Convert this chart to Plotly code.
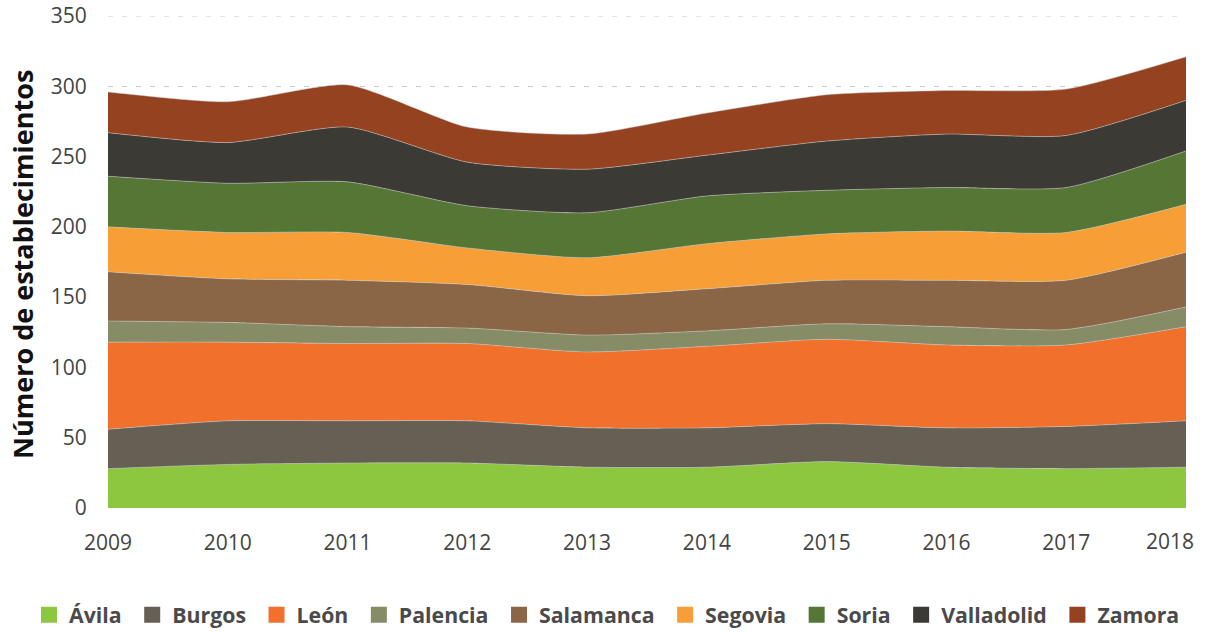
import plotly.graph_objects as go

years = [2009, 2010, 2011, 2012, 2013, 2014, 2015, 2016, 2017, 2018]
year_labels = ["2009", "2010", "2011", "2012", "2013", "2014", "2015", "2016", "2017", "2018"]
y_ticks = [0, 50, 100, 150, 200, 250, 300, 350]

avila      = [28, 31, 32, 32, 29, 29, 33, 29, 28, 29]
burgos     = [28, 31, 30, 30, 28, 28, 27, 28, 30, 33]
leon       = [62, 56, 55, 55, 54, 58, 60, 59, 58, 67]
palencia   = [15, 14, 12, 11, 12, 11, 11, 13, 11, 14]
salamanca  = [35, 31, 33, 31, 28, 30, 31, 33, 35, 39]
segovia    = [32, 33, 34, 26, 27, 32, 33, 35, 34, 34]
soria      = [36, 35, 36, 30, 32, 34, 31, 31, 32, 38]
valladolid = [31, 29, 39, 31, 31, 29, 35, 38, 37, 36]
zamora     = [29, 29, 30, 25, 25, 30, 33, 31, 33, 31]

names = ["Ávila", "Burgos", "León", "Palencia", "Salamanca", "Segovia", "Soria", "Valladolid", "Zamora"]
series = [avila, burgos, leon, palencia, salamanca, segovia, soria, valladolid, zamora]
colors = ["#8DC63F", "#655F54", "#F1702C", "#868C66", "#8A6646",
          "#F79F36", "#557634", "#3B3A35", "#954220"]

W, H = 1207, 632
L, R, T, B = 108, 21, 16, 124
PW = W - L - R
PH = H - T - B

fig = go.Figure()
for name, vals, col in zip(names, series, colors):
    fig.add_trace(go.Scatter(
        x=years, y=vals, name=name, mode="lines",
        stackgroup="one", fillcolor=col, showlegend=False,
        line=dict(color="rgba(205,205,205,0.7)", width=0.7, shape="spline", smoothing=0.6),
    ))
# legend entries with square swatches
for name, col in zip(names, colors):
    fig.add_trace(go.Scatter(
        x=[None], y=[None], name=name + "\u00a0", mode="markers",
        marker=dict(symbol="square", size=18, color=col),
        showlegend=True, hoverinfo="skip",
    ))

# the last year label is drawn as an annotation, right-aligned so it stays inside the page
ticktext = year_labels[:-1] + [""]

fig.update_layout(
    width=W, height=H,
    paper_bgcolor="white", plot_bgcolor="white",
    margin=dict(l=L, r=R, t=T, b=B, autoexpand=False),
    font=dict(family="Open Sans", color="#444444"),
    showlegend=True,
    legend=dict(
        orientation="h", x=(29 - L) / PW, xanchor="left",
        y=(PH + T - 615) / PH, yanchor="middle",
        font=dict(size=21.3, color="#4a4a4a", family="Open Sans", weight="bold"),
        traceorder="normal", itemwidth=30, itemsizing="trace",
        borderwidth=0,
    ),
    shapes=[dict(type="line", xref="paper", x0=0, x1=1, yref="y", y0=350, y1=350,
                 line=dict(color="#cccccc", width=1, dash="5px,9px"), layer="below")],
    annotations=[
        dict(
            text="<b>Número de establecimientos</b>", textangle=-90,
            xref="paper", x=(22.5 - L) / PW, xanchor="center",
            yref="paper", y=0.495, yanchor="middle", showarrow=False,
            font=dict(size=27, color="#111111", family="Open Sans"),
        ),
        dict(
            text=year_labels[-1], xref="x", x=years[-1], xanchor="right", xshift=10,
            yref="paper", y=0, yanchor="middle", yshift=-33, showarrow=False,
            font=dict(size=21, color="#444444", family="Open Sans"),
        ),
    ],
)
fig.update_xaxes(
    range=[2009, 2018], tickmode="array", tickvals=years, ticktext=ticktext,
    showgrid=False, zeroline=False, showline=False, automargin=False,
    ticks="outside", ticklen=16, tickcolor="rgba(0,0,0,0)",
    tickfont=dict(size=21, color="#444444"),
)
fig.update_yaxes(
    range=[0, 350], tickmode="array", tickvals=y_ticks,
    showgrid=True, gridcolor="#cccccc", griddash="5px,9px", gridwidth=1,
    zeroline=False, showline=False, automargin=False,
    ticks="outside", ticklen=16, tickcolor="rgba(0,0,0,0)",
    tickfont=dict(size=21, color="#444444"),
)

fig.write_html(
    "out.html",
    config={"displayModeBar": False},
    post_script="document.documentElement.style.margin='0';document.body.style.margin='0';"
                "document.body.style.padding='0';document.body.style.overflow='hidden';",
)
